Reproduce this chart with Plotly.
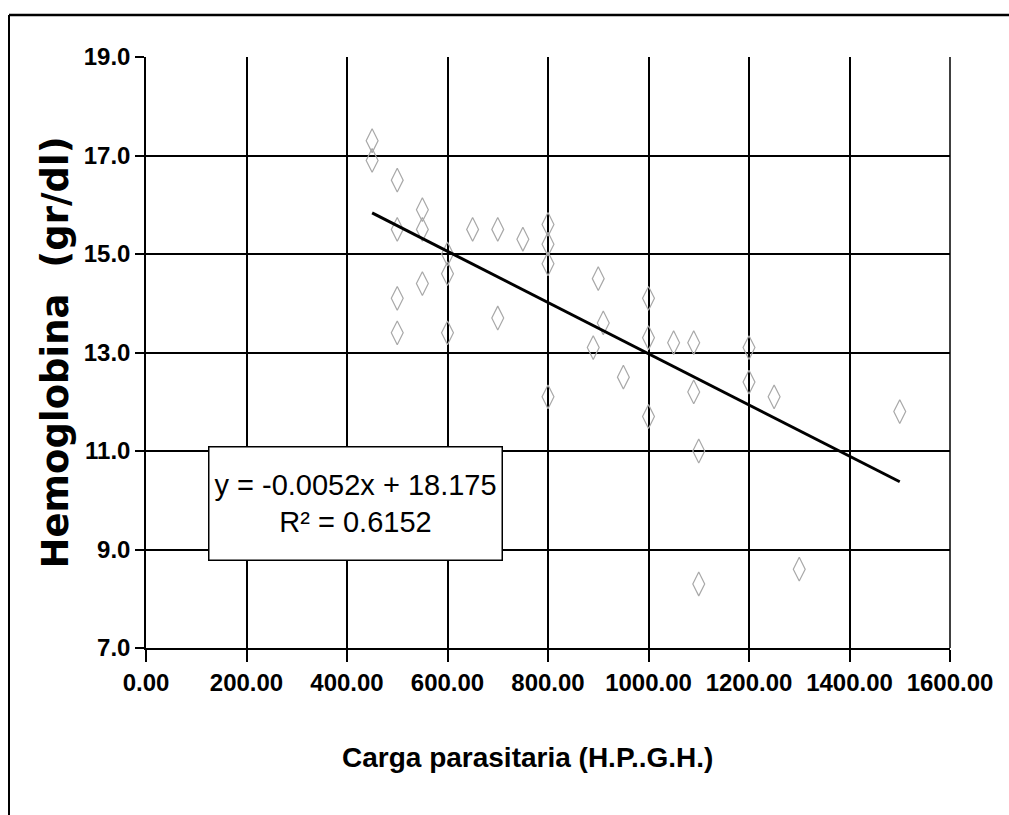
import plotly.graph_objects as go

# Data (carga parasitaria vs hemoglobina)
carga = [450, 450, 500, 500, 550, 550, 500, 550, 500, 600, 600, 600,
         650, 700, 700, 750, 800, 800, 800, 800, 900, 910, 890, 950,
         1000, 1000, 1000, 1050, 1090, 1090, 1100, 1100, 1200, 1200,
         1250, 1300, 1500]
hemoglobina = [17.3, 16.9, 16.5, 15.5, 15.9, 15.5, 14.1, 14.4, 13.4, 15.0, 14.6, 13.4,
               15.5, 15.5, 13.7, 15.3, 15.6, 15.2, 14.8, 12.1, 14.5, 13.6, 13.1, 12.5,
               14.1, 13.3, 11.7, 13.2, 13.2, 12.2, 11.0, 8.3, 13.1, 12.4,
               12.1, 8.6, 11.8]

slope = -0.0052
intercept = 18.175
r2 = 0.6152

x_ticks = [0, 200, 400, 600, 800, 1000, 1200, 1400, 1600]
y_ticks = [7, 9, 11, 13, 15, 17, 19]
x_title = "Carga parasitaria (H.P..G.H.)"
y_title = "Hemoglobina  (gr/dl)"

trend_x = [min(carga), max(carga)]
trend_y = [slope * v + intercept for v in trend_x]

fig = go.Figure()
fig.add_trace(go.Scatter(
    x=carga, y=hemoglobina, mode="markers",
    marker=dict(symbol="diamond-tall-open", size=17,
                color="#a8a8a8",
                line=dict(color="#a8a8a8", width=1.2)),
    showlegend=False))
fig.add_trace(go.Scatter(
    x=trend_x, y=trend_y, mode="lines",
    line=dict(color="black", width=3), showlegend=False))

L, R, T, B = 146, 950, 57, 648
W, H = 1009, 815
pw, ph = R - L, B - T

def px(xp):
    return (xp - L) / pw

def py(yp):
    return (B - yp) / ph

TICKFONT = dict(size=24, family="Liberation Sans, Arial", weight="bold", color="black")

fig.update_layout(
    width=W, height=H,
    margin=dict(l=L, r=W - R, t=T, b=H - B),
    paper_bgcolor="white", plot_bgcolor="white",
    font=dict(family="Liberation Sans, Arial", color="black"),
    xaxis=dict(range=[0, 1600], tickvals=x_ticks,
               ticktext=[f"{v:.2f}" for v in x_ticks], tickangle=0,
               showgrid=True, gridcolor="black", gridwidth=1.5,
               zeroline=False, showline=True, linecolor="black", linewidth=1.5,
               ticks="outside", ticklen=12, tickcolor="black", tickwidth=1.5,
               tickfont=TICKFONT),
    yaxis=dict(range=[7, 19], tickvals=y_ticks,
               ticktext=[f"{v:.1f}" for v in y_ticks],
               showgrid=True, gridcolor="black", gridwidth=1.5,
               zeroline=False, showline=True, linecolor="black", linewidth=1.5,
               ticks="outside", ticklen=9, tickcolor="black", tickwidth=1.5,
               tickfont=TICKFONT,
               title=dict(text=y_title,
                          font=dict(size=37, family="DejaVu Sans", weight="bold"),
                          standoff=4)),
    shapes=[
        dict(type="line", xref="paper", yref="paper",
             x0=px(9), x1=px(9), y0=py(15), y1=py(815),
             line=dict(color="black", width=2)),
        dict(type="line", xref="paper", yref="paper",
             x0=px(9), x1=px(1009), y0=py(15), y1=py(15),
             line=dict(color="black", width=2.5)),
        dict(type="line", xref="paper", yref="paper",
             x0=1, x1=1, y0=0, y1=1,
             line=dict(color="black", width=1.5)),
    ],
    annotations=[
        dict(xref="paper", yref="paper", x=px(355), y=py(504),
             xanchor="center", yanchor="middle",
             text=f"y = {slope}x + {intercept}<br>R² = {r2}",
             showarrow=False, align="center",
             font=dict(size=29, family="Liberation Sans, Arial", color="black"),
             bgcolor="white", bordercolor="black", borderwidth=1.5,
             width=290, height=110),
        dict(xref="paper", yref="paper", x=px(527), y=py(757),
             xanchor="center", yanchor="middle", showarrow=False,
             text=x_title,
             font=dict(size=28, family="Liberation Sans, Arial", weight="bold", color="black")),
    ],
)

fig.write_html("out.html")
